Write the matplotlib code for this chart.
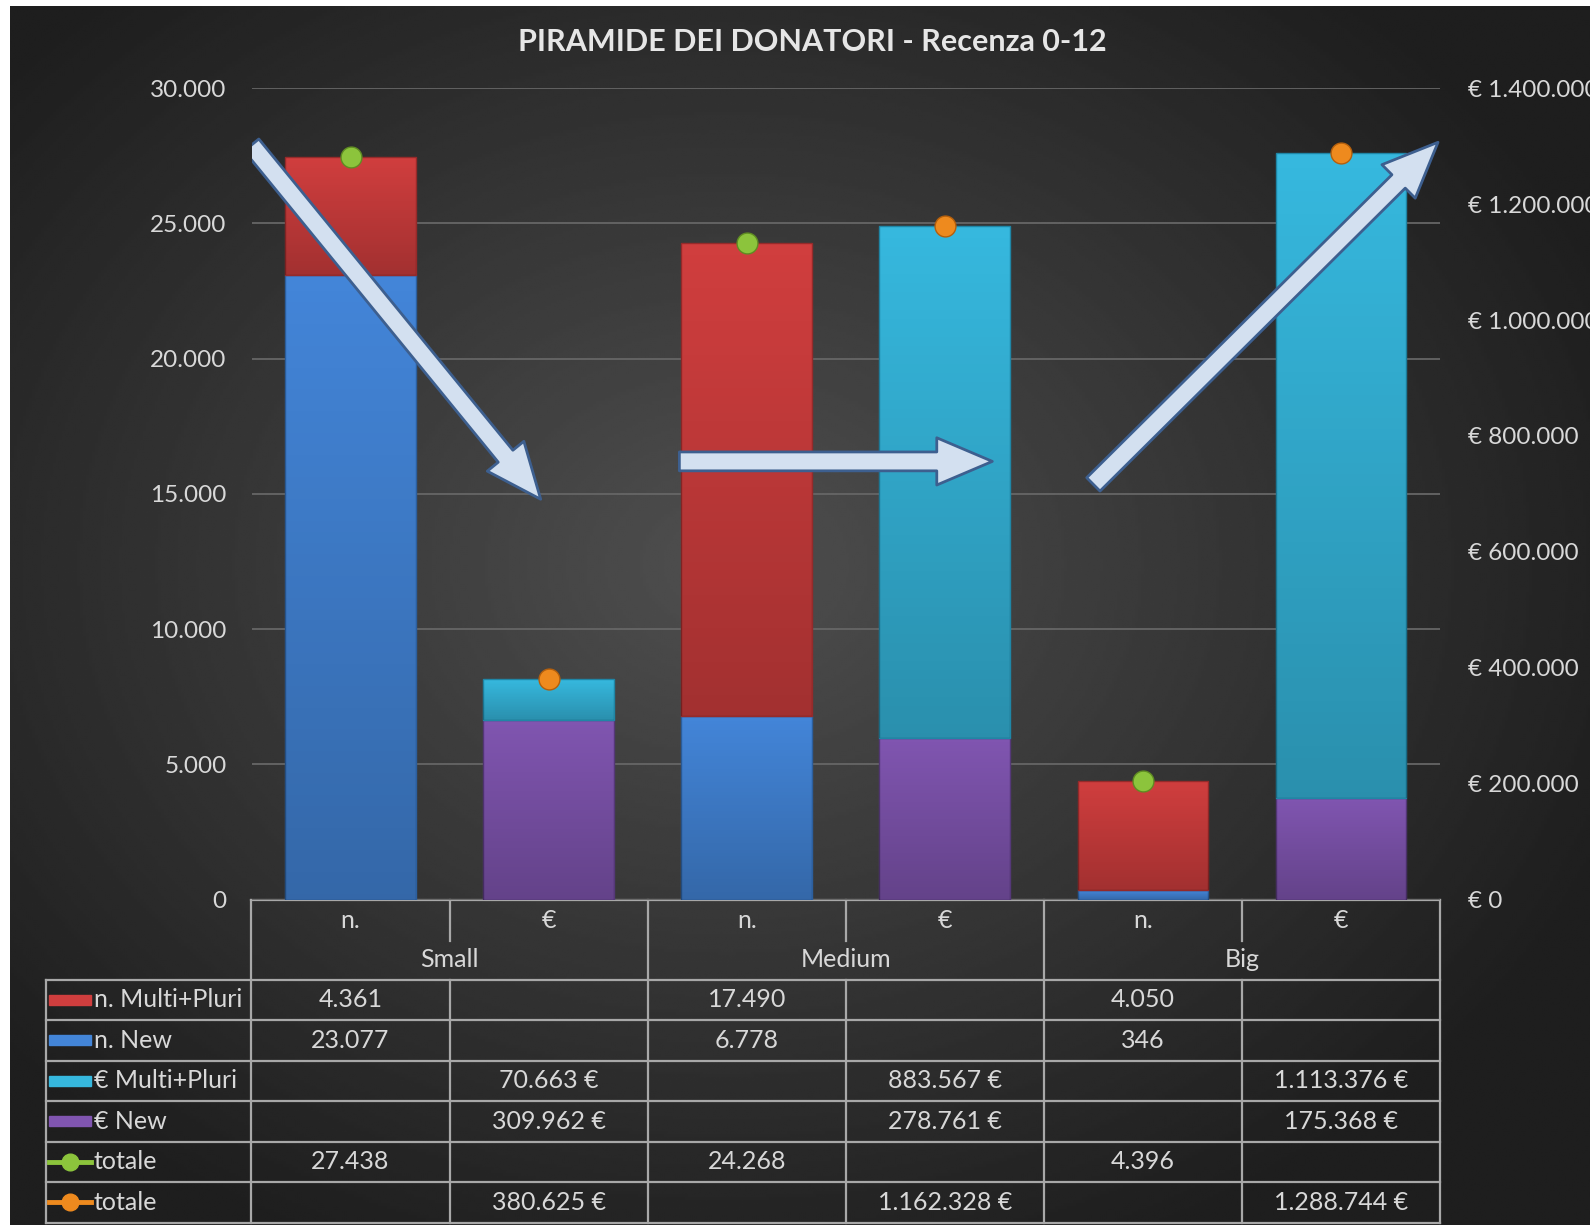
import numpy as np
import matplotlib
matplotlib.use('Agg')
import matplotlib.pyplot as plt
from matplotlib.patches import FancyArrowPatch, Rectangle
from matplotlib.lines import Line2D
from matplotlib.ticker import FuncFormatter

plt.rcParams['font.family'] = ['Lato', 'DejaVu Sans']

# dati della piramide
segments = ['Small', 'Medium', 'Big']
sub_cols = ['n.', '€']
n_multi = [4361, 17490, 4050]
n_new = [23077, 6778, 346]
eur_multi = [70663, 883567, 1113376]
eur_new = [309962, 278761, 175368]
n_tot = [27438, 24268, 4396]
eur_tot = [380625, 1162328, 1288744]
row_labels = ['n. Multi+Pluri', 'n. New', '€ Multi+Pluri', '€ New', 'totale', 'totale']

RED = '#d03e3e'
BLUE = '#4385d8'
CYAN = '#36b8de'
PURPLE = '#8055b0'
GREEN = '#8cc43c'
ORANGE = '#ee8a1e'
TXT = '#d8d8d8'
GRID = '#666666'
TLINE = '#a8a8a8'


def dotted(v):
    return f"{int(v):,}".replace(',', '.')


def shade_bars(a, bars):
    # leggera sfumatura verticale sulle barre
    grad = np.zeros((64, 2, 4))
    grad[..., 3] = np.linspace(0.0, 0.22, 64)[:, None]
    for b in bars:
        x, y = b.get_x(), b.get_y()
        w, h = b.get_width(), b.get_height()
        im = a.imshow(grad, extent=[x, x + w, y, y + h], origin='upper',
                      aspect='auto', zorder=3.5, interpolation='bilinear')
        im.set_clip_path(b)


W, H = 1590, 1225
fig = plt.figure(figsize=(W / 100, H / 100), dpi=100, facecolor='white')

# sfondo scuro con sfumatura radiale
bg = fig.add_axes([0, 0, 1, 1])
bg.set_xlim(0, W)
bg.set_ylim(H, 0)
bg.axis('off')
yy, xx = np.mgrid[0:H:3, 0:W:3]
r = np.sqrt(((xx - 720) / 950) ** 2 + ((yy - 560) / 750) ** 2)
shade = np.clip(0.31 - 0.19 * r, 0.12, 0.31)
bg.imshow(shade, cmap='gray', vmin=0, vmax=1, extent=[10, W, H, 6],
          aspect='auto', interpolation='bilinear', zorder=0)

# area del grafico
px0, px1 = 251.5, 1440
py0, py1 = 899.5, 88.2
ax = fig.add_axes([px0 / W, 1 - py0 / H, (px1 - px0) / W, (py0 - py1) / H])
ax.patch.set_alpha(0)
ax2 = ax.twinx()
for a in (ax, ax2):
    for s in a.spines.values():
        s.set_visible(False)
    a.tick_params(length=0, labelsize=17.5, labelcolor=TXT)
ax.tick_params(pad=18)
ax2.tick_params(pad=20)
ax.set_xticks([])
ax.yaxis.set_major_formatter(FuncFormatter(lambda v, p: dotted(v)))
ax2.yaxis.set_major_formatter(FuncFormatter(lambda v, p: '€ ' + dotted(v)))
ax.yaxis.grid(True, color=GRID, lw=1.3, zorder=0)
ax.set_axisbelow(True)

xn = np.arange(3) * 2
xe = xn + 1
bw = 0.66
b1 = ax.bar(xn, n_new, bw, color=BLUE, edgecolor='#2c5f9e', lw=1, zorder=3)
b2 = ax.bar(xn, n_multi, bw, bottom=n_new, color=RED, edgecolor='#962a2a', lw=1, zorder=3)
b3 = ax2.bar(xe, eur_new, bw, color=PURPLE, edgecolor='#553878', lw=1, zorder=3)
b4 = ax2.bar(xe, eur_multi, bw, bottom=eur_new, color=CYAN, edgecolor='#1f86a6', lw=1, zorder=3)
shade_bars(ax, list(b1) + list(b2))
shade_bars(ax2, list(b3) + list(b4))
ax2.plot(xn, np.array(n_tot) / 30000 * 1400000, 'o', ms=15, color=GREEN,
         mec='#5f8c22', mew=1, zorder=5)
ax2.plot(xe, eur_tot, 'o', ms=15, color=ORANGE, mec='#b45f0c', mew=1, zorder=5)

ax.set_xlim(-0.5, 5.5)
ax.set_ylim(0, 30000)
ax2.set_ylim(0, 1400000)
ax.set_yticks(np.arange(0, 30001, 5000))
ax2.set_yticks(np.arange(0, 1400001, 200000))

fig.text(812 / W, 1 - 42 / H, 'PIRAMIDE DEI DONATORI - Recenza 0-12', color='#e6e6e6',
         fontsize=22, fontweight='bold', ha='center', va='center')

# frecce
arrows = [((-0.5, 27900), (0.96, 14800)),
          ((1.66, 16200), (3.24, 16200)),
          ((3.75, 15350), (5.49, 28000))]
for a0, a1 in arrows:
    ax2.add_patch(FancyArrowPatch(a0, a1, transform=ax.transData,
                                  arrowstyle='simple,head_length=2.0,head_width=1.7,tail_width=0.68',
                                  mutation_scale=20, shrinkA=0, shrinkB=0,
                                  fc='#d3e0f0', ec='#3d5f8f', lw=2, zorder=6))

# tabella dati
edges = [ax.transData.transform((v, 0))[0] for v in np.arange(-0.5, 6, 1)]
top_y = H - ax.transData.transform((0, 0))[1]
hdr_mid = top_y + 41
rows_top = top_y + 80
row_h = 40.5
leg_x = 46
bottom_y = rows_top + 6 * row_h

bg.plot([edges[0], edges[-1]], [top_y, top_y], color=TLINE, lw=1.6, zorder=2)
for i in range(7):
    yl = rows_top + i * row_h
    bg.plot([leg_x, edges[-1]], [yl, yl], color=TLINE, lw=1.6, zorder=2)
bg.plot([leg_x, leg_x], [rows_top, bottom_y], color=TLINE, lw=1.6, zorder=2)
for k in (0, 2, 4, 6):
    bg.plot([edges[k], edges[k]], [top_y, bottom_y], color=TLINE, lw=1.6, zorder=2)
for k in (1, 3, 5):
    bg.plot([edges[k], edges[k]], [top_y, hdr_mid], color=TLINE, lw=1.6, zorder=2)
    bg.plot([edges[k], edges[k]], [rows_top, bottom_y], color=TLINE, lw=1.6, zorder=2)

fs = 18
centers = [(edges[k] + edges[k + 1]) / 2 for k in range(6)]
for k in range(6):
    bg.text(centers[k], top_y + 21, sub_cols[k % 2], color=TXT, fontsize=fs,
            ha='center', va='center', zorder=3)
for i, seg in enumerate(segments):
    bg.text(edges[2 * i + 1], top_y + 60, seg, color=TXT, fontsize=fs,
            ha='center', va='center', zorder=3)

cells = [(n_multi, 0, False), (n_new, 0, False), (eur_multi, 1, True),
         (eur_new, 1, True), (n_tot, 0, False), (eur_tot, 1, True)]
for r_i, (vals, off, euro) in enumerate(cells):
    yc = rows_top + (r_i + 0.5) * row_h
    for i, v in enumerate(vals):
        label = dotted(v) + (' €' if euro else '')
        bg.text(centers[2 * i + off], yc, label, color=TXT, fontsize=fs,
                ha='center', va='center', zorder=3)

swatch = [RED, BLUE, CYAN, PURPLE]
for r_i, lab in enumerate(row_labels):
    yc = rows_top + (r_i + 0.5) * row_h
    if r_i < 4:
        bg.add_patch(Rectangle((49, yc - 5), 42, 10, color=swatch[r_i], zorder=3))
    else:
        c = GREEN if r_i == 4 else ORANGE
        bg.add_line(Line2D([49, 91], [yc, yc], color=c, lw=3.5, zorder=3))
        bg.plot([70], [yc], 'o', ms=12, color=c, zorder=4)
    bg.text(94, yc, lab, color=TXT, fontsize=fs, ha='left', va='center', zorder=3)

fig.savefig('out.png', dpi=100, facecolor='white')
